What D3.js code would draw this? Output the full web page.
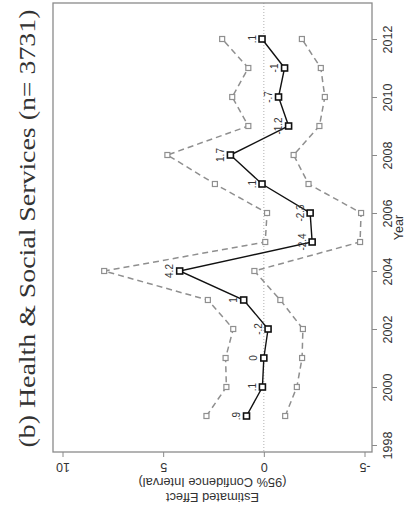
<!DOCTYPE html>
<html><head><meta charset="utf-8">
<script src="https://cdn.jsdelivr.net/npm/d3@7"></script>
<style>body{margin:0;background:#fff}svg{display:block}</style>
</head><body><svg id="c" width="407" height="513"></svg>
<script>
// ---- data ----
const years = [1999, 2000, 2001, 2002, 2003, 2004, 2005, 2006, 2007, 2008, 2009, 2010, 2011, 2012];
const estimate = [0.86, 0.07, 0.0, -0.21, 1.0, 4.18, -2.40, -2.30, 0.09, 1.66, -1.23, -0.73, -1.03, 0.09];
const upperCI = [2.85, 1.86, 1.90, 1.52, 2.78, 7.93, -0.07, -0.16, 2.43, 4.79, 0.77, 1.57, 0.77, 2.07];
const lowerCI = [-1.06, -1.64, -1.90, -1.94, -0.82, 0.47, -4.78, -4.83, -2.22, -1.48, -2.76, -3.03, -2.83, -1.89];
const pointLabels = [".9", ".1", "0", "-.2", "1", "4.2", "-2.4", "-2.3", ".1", "1.7", "-1.2", "-.7", "-1", ".1"];
const effectTicks = [-5, 0, 5, 10];
const yearTicks = [1998, 2000, 2002, 2004, 2006, 2008, 2010, 2012];
const caption = "(b) Health & Social Services (n= 3731)";
const yTitle1 = "Estimated Effect";
const yTitle2 = "(95% Confidence Interval)";
const xTitle = "Year";

// ---- layout (picture is the plot turned a quarter turn) ----
const svg = d3.select("#c");
svg.append("rect").attr("width", 407).attr("height", 513).attr("fill", "#fff");
const box = {left: 53, right: 372, top: 3, bottom: 452};
const effX = d3.scaleLinear().domain([-5, 10]).range([364.5, 62.5]);
const yearY = d3.scaleLinear().domain([1998, 2012]).range([445, 39]);
const sans = "'Liberation Sans', Arial, sans-serif";
const gray = "#8a8a8a";

// zero reference line
svg.append("line")
  .attr("x1", effX(0)).attr("x2", effX(0))
  .attr("y1", box.top).attr("y2", box.bottom)
  .attr("stroke", "#b0b0b0").attr("stroke-width", 1)
  .attr("stroke-dasharray", "1,2");

// plot box
svg.append("rect")
  .attr("x", box.left).attr("y", box.top)
  .attr("width", box.right - box.left).attr("height", box.bottom - box.top)
  .attr("fill", "none").attr("stroke", gray).attr("stroke-width", 1.3);

// effect axis (bottom of picture)
const ax = svg.append("g").attr("transform", `translate(0,${box.bottom})`)
  .call(d3.axisBottom(effX).tickValues(effectTicks).tickSize(5).tickFormat(d => String(d)));
ax.select(".domain").remove();
ax.selectAll(".tick line").attr("stroke", gray);
ax.selectAll(".tick text")
  .attr("y", 0).attr("dy", "0.35em")
  .attr("transform", "translate(0,15) rotate(180)")
  .attr("font-family", sans).attr("font-size", 12.5).attr("fill", "#333");

// year axis (right of picture)
const ay = svg.append("g").attr("transform", `translate(${box.right},0)`)
  .call(d3.axisRight(yearY).tickValues(yearTicks).tickSize(5).tickFormat(d => String(d)));
ay.select(".domain").remove();
ay.selectAll(".tick line").attr("stroke", gray);
ay.selectAll(".tick text")
  .attr("x", 0).attr("dy", "0.35em")
  .attr("text-anchor", "middle")
  .attr("transform", "translate(16,0) rotate(-90)")
  .attr("font-family", sans).attr("font-size", 12.5).attr("fill", "#333");

// axis titles
const midX = (box.left + box.right) / 2;
const midY = (box.top + box.bottom) / 2;
svg.append("text").text(xTitle)
  .attr("transform", `translate(398.5,${midY}) rotate(-90)`)
  .attr("text-anchor", "middle").attr("dy", "0.35em")
  .attr("font-family", sans).attr("font-size", 12.5).attr("fill", "#333");
svg.append("text").text(yTitle2)
  .attr("transform", `translate(${midX},482) rotate(180)`)
  .attr("text-anchor", "middle").attr("dy", "0.35em")
  .attr("font-family", sans).attr("font-size", 12.8).attr("fill", "#333");
svg.append("text").text(yTitle1)
  .attr("transform", `translate(${midX},497) rotate(180)`)
  .attr("text-anchor", "middle").attr("dy", "0.35em")
  .attr("font-family", sans).attr("font-size", 12.8).attr("fill", "#333");

// caption
svg.append("text").text(caption)
  .attr("transform", `translate(35,${midY + 1}) rotate(-90)`)
  .attr("text-anchor", "middle")
  .attr("font-family", "'Liberation Serif', 'Times New Roman', serif")
  .attr("font-size", 23).attr("fill", "#333")
  .attr("textLength", 438).attr("lengthAdjust", "spacingAndGlyphs");

// series
const rows = years.map((y, i) => ({year: y, est: estimate[i], hi: upperCI[i], lo: lowerCI[i], lab: pointLabels[i]}));
function drawSeries(key, color, width, dash, size, sw) {
  const line = d3.line().x(d => effX(d[key])).y(d => yearY(d.year));
  svg.append("path").datum(rows).attr("d", line)
    .attr("fill", "none").attr("stroke", color).attr("stroke-width", width)
    .attr("stroke-dasharray", dash);
  svg.append("g").selectAll("rect").data(rows).join("rect")
    .attr("x", d => effX(d[key]) - size / 2).attr("y", d => yearY(d.year) - size / 2)
    .attr("width", size).attr("height", size)
    .attr("fill", "#fff").attr("stroke", color).attr("stroke-width", sw);
}
drawSeries("hi", "#8f8f8f", 1.5, "6,4", 5, 1.2);
drawSeries("lo", "#8f8f8f", 1.5, "6,4", 5, 1.2);
drawSeries("est", "#111", 1.4, null, 6, 1.6);

// point labels
svg.append("g").selectAll("text").data(rows).join("text")
  .text(d => d.lab)
  .attr("transform", d => `translate(${effX(d.est) - 10},${yearY(d.year)}) rotate(-90)`)
  .attr("text-anchor", "middle").attr("dy", "0.35em")
  .attr("font-family", sans).attr("font-size", 10).attr("fill", "#333");
</script>
</body></html>
